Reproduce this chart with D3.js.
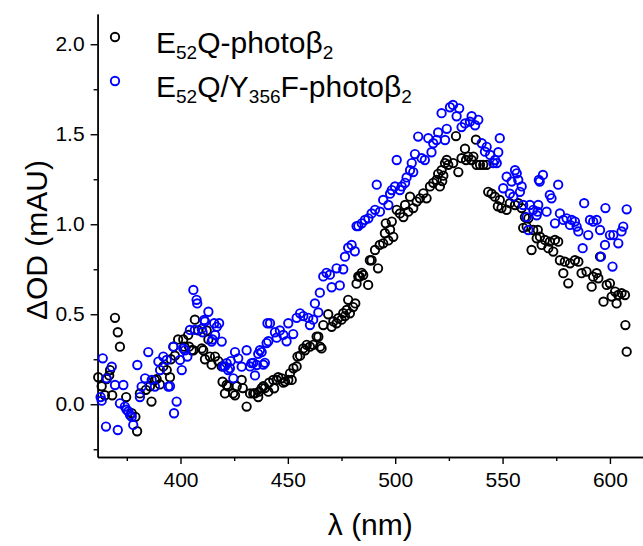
<!DOCTYPE html>
<html>
<head>
<meta charset="utf-8">
<script src="https://cdn.jsdelivr.net/npm/d3@7"></script>
<style>
    body { margin: 0; background: #fff; }
    svg { font-family: "Liberation Sans", Arial, sans-serif; }
    .axis path, .axis line { stroke: #000; stroke-width: 1.4; }
</style>
</head>
<body>
<svg width="643" height="546"></svg>
<script>
// E52Q-photoβ2, [wavelength nm, ΔOD mAU]
var e52qPoints = [
    [361.7, 0.15], [363.3, 0.10], [364.8, 0.05], [365.6, 0.14], [366.8, 0.16], [367.2, 0.19],
    [368.2, 0.05], [369.5, 0.48], [370.8, 0.40], [371.8, 0.32], [374.7, 0.04], [377.3, -0.05],
    [379.0, -0.07], [379.8, -0.15], [381.1, 0.06], [383.9, 0.08], [385.8, 0.10], [386.5, 0.015],
    [388.1, 0.135], [388.9, 0.14], [390.4, 0.11], [392.0, 0.21], [393.6, 0.19], [395.1, 0.15],
    [395.5, 0.25], [396.7, 0.32], [397.4, 0.27], [398.9, 0.36], [401.3, 0.36], [401.8, 0.32],
    [403.6, 0.385], [404.0, 0.32], [405.2, 0.30], [406.0, 0.30], [406.7, 0.47], [408.3, 0.41],
    [409.9, 0.31], [410.6, 0.30], [411.4, 0.25], [412.2, 0.41], [413.0, 0.36], [413.7, 0.265],
    [414.5, 0.22], [416.1, 0.265], [417.6, 0.24], [419.2, 0.21], [419.6, 0.125], [420.7, 0.06],
    [421.5, 0.107], [422.2, 0.10], [424.5, 0.06], [425.4, 0.05], [426.2, 0.10], [428.5, 0.135],
    [429.0, 0.09], [430.8, -0.013], [432.4, 0.06], [433.9, 0.06], [434.7, 0.06], [436.2, 0.04],
    [436.6, 0.07], [437.8, 0.09], [438.6, 0.10], [439.3, 0.09], [440.9, 0.07], [441.3, 0.12],
    [443.2, 0.135], [443.6, 0.089], [444.8, 0.135], [445.5, 0.15], [447.1, 0.144], [447.9, 0.12],
    [448.7, 0.126], [450.2, 0.135], [451.0, 0.172], [451.8, 0.135], [452.6, 0.20], [454.1, 0.21],
    [454.5, 0.265], [455.7, 0.27], [457.2, 0.31], [458.0, 0.30], [458.8, 0.33], [460.3, 0.32],
    [461.8, 0.33], [463.4, 0.376], [464.2, 0.375], [465.0, 0.32], [465.7, 0.31], [466.5, 0.44],
    [468.8, 0.50], [470.4, 0.43], [471.2, 0.46], [472.7, 0.45], [473.5, 0.478], [475.0, 0.47],
    [475.8, 0.506], [476.6, 0.49], [477.4, 0.524], [478.1, 0.58], [478.9, 0.505], [480.4, 0.54],
    [481.4, 0.56], [482.0, 0.67], [482.8, 0.71], [483.5, 0.709], [484.4, 0.73], [485.1, 0.718],
    [487.4, 0.663], [488.2, 0.80], [489.0, 0.80], [490.6, 0.857], [492.0, 0.755], [492.8, 0.885],
    [494.4, 0.894], [495.2, 0.95], [495.6, 1.005], [496.8, 0.91], [497.6, 0.97], [498.4, 1.015],
    [499.1, 0.93], [500.7, 1.08], [502.2, 1.06], [503.8, 1.04], [504.6, 1.107], [506.1, 1.07],
    [506.9, 1.153], [508.4, 1.09], [510.0, 1.126], [511.5, 1.144], [513.1, 1.172], [514.6, 1.144],
    [516.2, 1.21], [517.7, 1.23], [519.3, 1.246], [520.0, 1.28], [520.8, 1.21], [521.6, 1.30],
    [521.9, 1.24], [522.4, 1.27], [523.2, 1.34], [524.0, 1.357], [524.7, 1.33], [527.0, 1.34],
    [528.3, 1.49], [529.4, 1.29], [530.9, 1.367], [532.5, 1.42], [533.0, 1.357], [534.0, 1.376],
    [535.6, 1.357], [536.4, 1.376], [537.6, 1.47], [537.9, 1.33], [539.5, 1.33], [541.0, 1.33],
    [542.6, 1.33], [543.3, 1.18], [544.9, 1.17], [546.4, 1.153], [547.8, 1.10], [548.7, 1.135],
    [549.5, 1.09], [551.9, 1.08], [553.4, 1.117], [555.8, 1.107], [557.3, 1.117], [558.9, 1.09],
    [559.6, 0.98], [560.4, 1.04], [561.2, 0.987], [562.0, 1.033], [563.5, 0.857], [564.3, 0.968],
    [565.9, 0.922], [566.4, 0.968], [567.4, 0.931], [568.2, 0.885], [569.7, 0.913], [571.3, 0.867],
    [572.0, 0.903], [573.6, 0.848], [574.4, 0.913], [575.9, 0.903], [576.7, 0.80], [578.3, 0.728],
    [579.0, 0.792], [580.6, 0.672], [581.4, 0.783], [583.7, 0.80], [585.3, 0.792], [586.8, 0.728],
    [589.1, 0.737], [591.5, 0.653], [592.2, 0.709], [593.8, 0.728], [594.6, 0.70], [595.4, 0.82],
    [597.0, 0.57], [598.5, 0.663], [600.0, 0.672], [600.8, 0.598], [602.4, 0.626], [603.1, 0.56],
    [603.9, 0.607], [605.4, 0.617], [607.0, 0.607], [607.2, 0.44], [607.8, 0.292]
];

// E52Q/Y356F-photoβ2, [wavelength nm, ΔOD mAU]
var e52qY356fPoints = [
    [362.8, 0.04], [363.3, 0.02], [363.8, 0.255], [365.3, -0.124], [365.6, 0.144], [368.0, 0.209],
    [369.5, 0.107], [370.8, -0.143], [371.8, 0.005], [373.4, 0.107], [374.1, -0.013], [374.9, -0.03],
    [375.7, -0.04], [376.5, -0.06], [377.3, -0.07], [378.0, -0.115], [379.9, 0.218], [381.1, 0.04],
    [381.9, 0.098], [383.5, 0.144], [385.0, 0.29], [386.6, 0.135], [388.1, 0.098], [389.7, 0.237],
    [390.5, 0.19], [392.0, 0.265], [393.6, 0.246], [394.3, 0.098], [395.1, 0.10], [396.7, 0.32],
    [397.0, -0.05], [398.2, 0.015], [399.8, 0.246], [400.6, 0.19], [401.3, 0.31], [402.1, 0.30],
    [403.2, 0.265], [404.4, 0.413], [406.0, 0.635], [406.7, 0.413], [407.5, 0.58], [407.8, 0.56],
    [409.9, 0.42], [410.3, 0.40], [411.0, 0.468], [411.4, 0.46], [413.0, 0.514], [414.5, 0.348],
    [414.9, 0.36], [415.7, 0.45], [416.1, 0.385], [416.9, 0.43], [418.0, 0.45], [419.2, 0.348],
    [419.9, 0.209], [420.7, 0.21], [421.5, 0.228], [422.2, 0.19], [423.0, 0.20], [423.4, 0.24],
    [424.6, 0.144], [425.4, 0.29], [426.9, 0.255], [428.5, 0.209], [430.8, 0.30], [432.4, 0.21],
    [433.1, 0.228], [433.9, 0.23], [434.7, 0.16], [435.5, 0.218], [436.2, 0.28], [437.0, 0.30],
    [437.8, 0.29], [438.6, 0.22], [439.3, 0.23], [440.1, 0.34], [440.5, 0.45], [440.9, 0.35],
    [441.7, 0.45], [444.0, 0.40], [444.8, 0.37], [446.3, 0.41], [447.9, 0.385], [449.4, 0.35],
    [450.2, 0.45], [452.5, 0.39], [454.1, 0.48], [455.7, 0.505], [457.2, 0.49], [459.5, 0.48],
    [460.3, 0.44], [461.8, 0.47], [462.6, 0.56], [464.2, 0.51], [464.9, 0.62], [466.5, 0.71],
    [468.0, 0.73], [469.6, 0.72], [470.4, 0.65], [472.7, 0.755], [474.2, 0.66], [475.8, 0.75],
    [476.6, 0.82], [478.1, 0.87], [479.7, 0.885], [481.2, 0.85], [482.0, 0.99], [482.8, 0.99],
    [484.4, 1.005], [485.9, 1.024], [487.5, 1.033], [489.0, 1.06], [490.6, 1.08], [491.4, 1.22],
    [492.9, 1.07], [494.4, 1.135], [496.8, 1.107], [497.6, 1.17], [498.4, 1.19], [499.9, 1.21],
    [500.7, 1.357], [502.2, 1.19], [503.0, 1.21], [504.6, 1.23], [505.3, 1.26], [506.9, 1.30],
    [507.7, 1.34], [508.4, 1.29], [509.2, 1.39], [510.7, 1.487], [512.3, 1.367], [513.8, 1.357],
    [515.4, 1.478], [516.9, 1.40], [517.7, 1.45], [519.3, 1.468], [520.0, 1.51], [521.6, 1.617],
    [523.2, 1.468], [524.0, 1.53], [525.5, 1.65], [526.9, 1.663], [528.6, 1.60], [529.8, 1.644],
    [530.9, 1.54], [532.5, 1.56], [534.8, 1.57], [535.6, 1.60], [537.2, 1.55], [538.7, 1.58],
    [540.3, 1.45], [541.8, 1.403], [542.6, 1.43], [544.2, 1.385], [545.7, 1.34], [546.5, 1.357],
    [547.3, 1.34], [548.0, 1.40], [548.7, 1.478], [550.3, 1.20], [551.9, 1.264], [553.4, 1.17],
    [554.2, 1.237], [555.0, 1.153], [555.8, 1.30], [556.6, 1.283], [557.3, 1.246], [558.1, 1.18],
    [558.9, 1.21], [559.6, 1.107], [561.2, 1.04], [562.0, 0.968], [562.7, 1.107], [564.3, 1.08],
    [565.9, 1.05], [566.3, 1.07], [566.6, 1.107], [566.9, 1.246], [567.3, 1.237], [568.8, 1.274],
    [570.5, 1.07], [572.0, 1.163], [572.8, 1.144], [574.4, 1.005], [575.9, 1.22], [576.7, 1.06],
    [578.3, 1.024], [579.8, 1.033], [581.4, 0.996], [582.2, 1.024], [583.7, 1.015], [584.5, 0.987],
    [585.3, 0.96], [587.3, 0.867], [588.0, 1.117], [589.9, 0.94], [590.7, 1.024], [592.2, 1.015],
    [593.8, 1.024], [595.4, 0.968], [595.8, 0.82], [597.7, 0.885], [597.9, 1.09], [600.0, 0.94],
    [601.2, 0.765], [601.6, 0.94], [603.9, 0.894], [605.4, 0.96], [606.2, 0.987], [607.8, 1.083]
];

var seriesNames = ["E52Q-photoβ2", "E52Q/Y356F-photoβ2"];
var seriesColors = ["#000000", "#0000ff"];

var xMajorTicks = [400, 450, 500, 550, 600];
var xMinorTicks = [375, 425, 475, 525, 575];
var yMajorTicks = [0.0, 0.5, 1.0, 1.5, 2.0];
var yMinorTicks = [-0.25, 0.25, 0.75, 1.25, 1.75];

var svg = d3.select("svg");

var plotLeft = 97.6;
var plotRight = 643;
var plotTop = 14;
var plotBottom = 457;

var x = d3.scaleLinear()
    .domain([361.4, 615.4])
    .range([plotLeft, plotRight]);

var y = d3.scaleLinear()
    .domain([-0.293, 2.168])
    .range([plotBottom, plotTop]);

// AXES
svg.append("g")
    .attr("class", "axis")
    .attr("transform", "translate(0," + plotBottom + ")")
    .call(d3.axisBottom(x).tickValues(xMajorTicks).tickSize(7).tickSizeOuter(0).tickPadding(8).tickFormat(d3.format("d")));

svg.append("g")
    .attr("class", "axis")
    .attr("transform", "translate(0," + plotBottom + ")")
    .call(d3.axisBottom(x).tickValues(xMinorTicks).tickSize(4).tickSizeOuter(0).tickFormat(""));

svg.append("g")
    .attr("class", "axis")
    .attr("transform", "translate(" + plotLeft + ",0)")
    .call(d3.axisLeft(y).tickValues(yMajorTicks).tickSize(7).tickSizeOuter(0).tickPadding(6).tickFormat(d3.format(".1f")));

svg.append("g")
    .attr("class", "axis")
    .attr("transform", "translate(" + plotLeft + ",0)")
    .call(d3.axisLeft(y).tickValues(yMinorTicks).tickSize(4).tickSizeOuter(0).tickFormat(""));

svg.selectAll(".axis")
    .attr("font-family", null)
    .attr("font-size", null);
svg.selectAll(".axis text")
    .style("font-size", "21px")
    .style("fill", "#000");
svg.selectAll(".axis .domain").attr("stroke-width", 1.5);

// POINTS
var allSeries = [e52qPoints, e52qY356fPoints];
allSeries.forEach(function(points, i) {
    svg.append("g")
        .selectAll("circle")
        .data(points)
        .enter()
        .append("circle")
        .attr("cx", function(d) { return x(d[0]); })
        .attr("cy", function(d) { return y(d[1]); })
        .attr("r", 4.2)
        .attr("fill", "none")
        .attr("stroke", seriesColors[i])
        .attr("stroke-width", 1.9);
});

// AXIS TITLES
svg.append("text")
    .attr("x", (plotLeft + plotRight) / 2)
    .attr("y", 535)
    .attr("text-anchor", "middle")
    .style("font-size", "30px")
    .text("λ (nm)");

svg.append("text")
    .attr("transform", "translate(47," + 240 + ") rotate(-90)")
    .attr("text-anchor", "middle")
    .style("font-size", "30px")
    .text("ΔOD (mAU)");

// LEGEND
var legendRows = [
    [["E", ""], ["52", "sub"], ["Q-photoβ", ""], ["2", "sub"]],
    [["E", ""], ["52", "sub"], ["Q/Y", ""], ["356", "sub"], ["F-photoβ", ""], ["2", "sub"]]
];

legendRows.forEach(function(parts, i) {
    var rowY = 53 + i * 44;
    svg.append("circle")
        .attr("cx", 115)
        .attr("cy", rowY - 16)
        .attr("r", 4.2)
        .attr("fill", "none")
        .attr("stroke", seriesColors[i])
        .attr("stroke-width", 1.9);

    var label = svg.append("text")
        .attr("x", 156)
        .attr("y", rowY)
        .attr("aria-label", seriesNames[i])
        .style("font-size", "30px");

    var shifted = false;
    parts.forEach(function(p) {
        var t = label.append("tspan").text(p[0]);
        if (p[1] === "sub") {
            t.style("font-size", "19px").attr("dy", shifted ? 0 : 6);
            shifted = true;
        } else {
            if (shifted) { t.attr("dy", -6); }
            shifted = false;
        }
    });
});
</script>
</body>
</html>
